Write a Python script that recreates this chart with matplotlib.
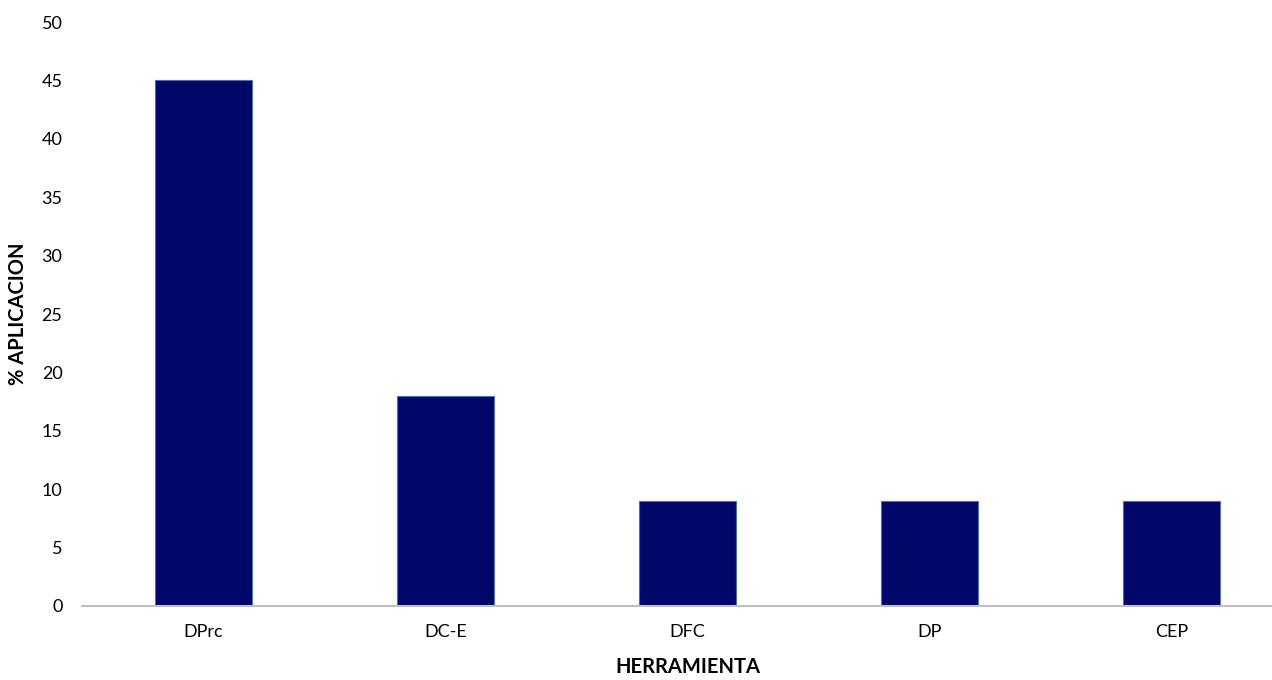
import matplotlib.pyplot as plt

herramientas = ['DPrc', 'DC-E', 'DFC', 'DP', 'CEP']
aplicacion = [45, 18, 9, 9, 9]
yticks = [0, 5, 10, 15, 20, 25, 30, 35, 40, 45, 50]

plt.rcParams['font.family'] = ['Lato', 'DejaVu Sans']

fig = plt.figure(figsize=(12.72, 6.8), dpi=100)
# ejes un poco más anchos que la figura (la imagen original está recortada a la derecha)
ax = fig.add_axes([82 / 1272, 74 / 680, 1211 / 1272, 584 / 680])

x = range(len(herramientas))
ax.bar(x, aplicacion, width=0.4, color='#000769', edgecolor='#4a6fb5', linewidth=0.8)

ax.set_xlim(-0.5, len(herramientas) - 0.5)
ax.set_ylim(0, 50)
ax.set_yticks(yticks)
ax.set_xticks(list(x))
ax.set_xticklabels(herramientas)

for s in ['top', 'right', 'left']:
    ax.spines[s].set_visible(False)
ax.spines['bottom'].set_color('#bfbfbf')
ax.spines['bottom'].set_linewidth(1.5)
ax.tick_params(axis='both', length=0, labelsize=13, colors='black')
ax.tick_params(axis='y', pad=14)
ax.tick_params(axis='x', pad=13)

ax.set_ylabel('% APLICACION', fontsize=14.5, fontweight='bold', labelpad=10)
ax.set_xlabel('HERRAMIENTA', fontsize=14.5, fontweight='bold', labelpad=12)

fig.savefig('out.png', dpi=100)
